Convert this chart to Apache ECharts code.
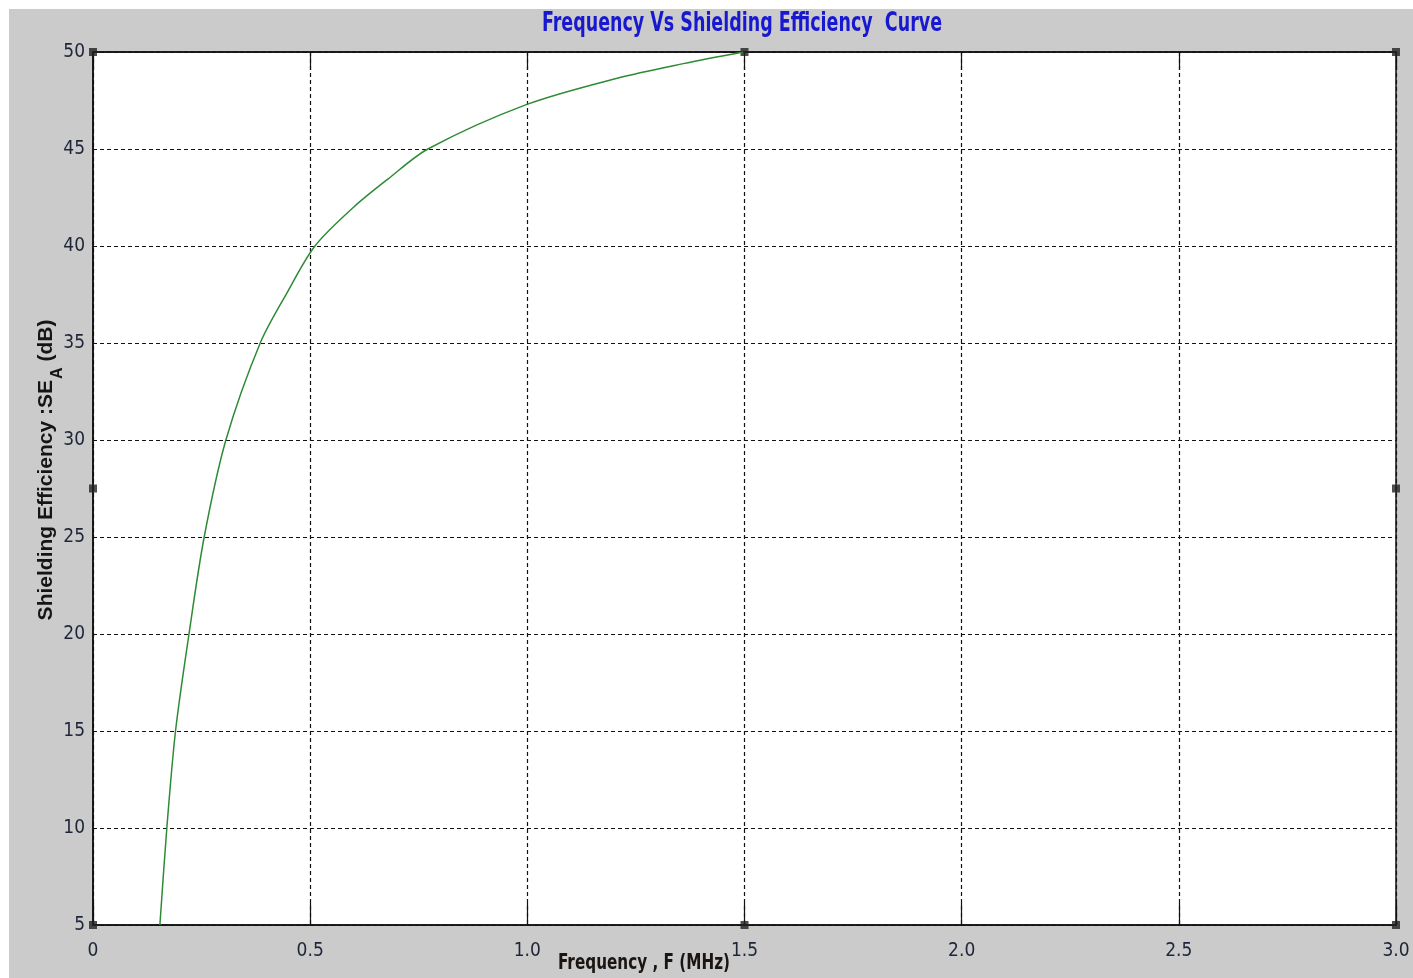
<!DOCTYPE html>
<html>
<head>
<meta charset="utf-8">
<script src="https://cdn.jsdelivr.net/npm/echarts@6/dist/echarts.min.js"></script>
<style>html,body{margin:0;padding:0;background:#fff}#c{width:1413px;height:978px}</style>
</head>
<body>
<div id="c"></div>
<script>
// Data
const frequencyMHz = [0.154, 0.170, 0.190, 0.221, 0.256, 0.306, 0.385, 0.447, 0.511, 0.600, 0.679, 0.771, 0.999, 1.207, 1.359, 1.497];
const shieldingDB  = [5, 10, 15, 20, 25, 30, 35, 37.6, 40, 42.0, 43.45, 45.0, 47.3, 48.65, 49.4, 50];
const xTicks = [0, 0.5, 1.0, 1.5, 2.0, 2.5, 3.0];
const yTicks = [5, 10, 15, 20, 25, 30, 35, 40, 45, 50];
const handleX = [0, 1.5, 3, 0, 3, 0, 1.5, 3];
const handleY = [50, 50, 50, 27.5, 27.5, 5, 5, 5];
const titleText = 'Frequency Vs Shielding Efficiency  Curve';
const xName = 'Frequency , F (MHz)';
const yName = '{a|Shielding Efficiency :SE}{s|A}{a| (dB)}';

const curve = frequencyMHz.map((f, i) => [f, shieldingDB[i]]);
const handles = handleX.map((x, i) => [x, handleY[i]]);

const cond = "'DejaVu Sans Condensed', 'Liberation Sans Narrow', 'Liberation Sans', sans-serif";
const arial = "'Liberation Sans', Arial, sans-serif";
const chart = echarts.init(document.getElementById('c'), null, {renderer: 'canvas'});
chart.setOption({
  backgroundColor: '#ffffff',
  animation: false,
  graphic: [{
    type: 'rect', z: -10, silent: true,
    shape: {x: 9, y: 9, width: 1413, height: 978},
    style: {fill: '#cbcbcb'}
  }, {
    type: 'text', silent: true, x: 742, y: 24, scaleX: 0.72,
    style: {text: titleText, fill: '#1818d0', font: "bold 27px " + cond, align: 'center', verticalAlign: 'middle'}
  }, {
    type: 'text', silent: true, x: 644, y: 963, scaleX: 0.77,
    style: {text: xName, fill: '#1a1510', font: "bold 22px " + cond, align: 'center', verticalAlign: 'middle'}
  }, {
    type: 'text', silent: true, x: 48, y: 470, rotation: Math.PI / 2,
    style: {
      text: yName, align: 'center', verticalAlign: 'middle',
      rich: {
        a: {fontSize: 21, fontWeight: 'bold', fill: '#151515', fontFamily: arial, lineHeight: 24, verticalAlign: 'top'},
        s: {fontSize: 16, fontWeight: 'bold', fill: '#151515', fontFamily: arial, lineHeight: 24, padding: [14, 0, 0, 1], verticalAlign: 'top'}
      }
    }
  }],
  grid: {
    left: 93, right: 17, top: 52, bottom: 53,
    show: true, backgroundColor: '#ffffff', borderColor: '#111', borderWidth: 1.5
  },
  xAxis: [{
    type: 'value', min: 0, max: 3, interval: 0.5,
    axisLine: {show: true, lineStyle: {color: '#111', width: 1.5}},
    axisTick: {show: true, inside: true, length: 22, lineStyle: {color: '#111', width: 1.2}},
    axisLabel: {
      margin: 17, color: '#1e2538', fontSize: 19, fontFamily: cond,
      formatter: v => { const t = xTicks.find(x => Math.abs(x - v) < 1e-9); return t === 0 ? '0' : (t !== undefined ? t.toFixed(1) : ''); }
    },
    splitLine: {show: true, lineStyle: {color: '#111', type: [4, 3], width: 1.2}}
  }, {
    type: 'value', min: 0, max: 3, interval: 0.5, position: 'top',
    axisLine: {show: true, lineStyle: {color: '#111', width: 1.5}},
    axisTick: {show: true, inside: true, length: 18, lineStyle: {color: '#111', width: 1.2}},
    axisLabel: {show: false}, splitLine: {show: false}
  }],
  yAxis: {
    type: 'value', min: 5, max: 50, interval: 5,
    axisLine: {show: true, lineStyle: {color: '#111', width: 1.5}},
    axisTick: {show: false},
    axisLabel: {
      margin: 8, color: '#1e2538', fontSize: 19, fontFamily: cond,
      formatter: v => yTicks.includes(v) ? String(v) : ''
    },
    splitLine: {show: true, lineStyle: {color: '#111', type: [4, 3], width: 1.2}}
  },
  series: [{
    type: 'line', data: curve, smooth: 0.3,
    showSymbol: false, silent: true,
    lineStyle: {color: '#2e8b35', width: 1.5}
  }, {
    type: 'scatter', data: handles, symbol: 'rect', symbolSize: 8,
    silent: true, clip: false,
    itemStyle: {color: '#222'}
  }]
});
</script>
</body>
</html>
